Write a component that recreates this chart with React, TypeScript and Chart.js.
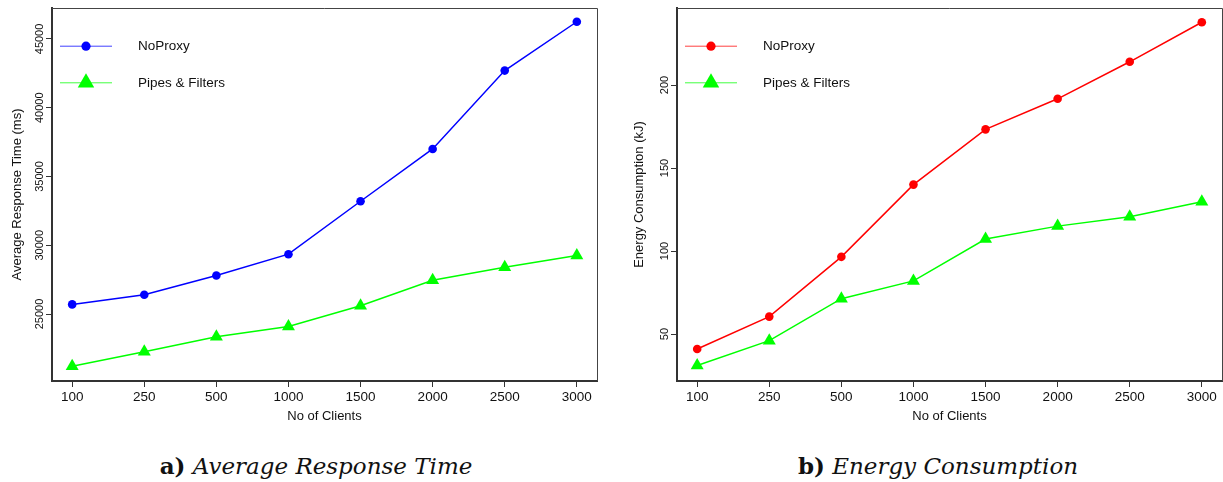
import React, { useEffect, useRef } from "react";
import { Chart, registerables } from "chart.js";

Chart.register(...registerables);

// ---------- data ----------
const clients = ["100", "250", "500", "1000", "1500", "2000", "2500", "3000"];
const seriesLabels = ["NoProxy", "Pipes & Filters"];

const responseNoProxy = [25700, 26400, 27800, 29350, 33200, 37000, 42700, 46250];
const responsePipes = [21200, 22250, 23350, 24100, 25600, 27450, 28400, 29250];
const responseTicks = [25000, 30000, 35000, 40000, 45000];

const energyNoProxy = [41, 60.5, 96.5, 140, 173.3, 191.7, 214, 237.8];
const energyPipes = [31, 46, 71.3, 82, 107.2, 115, 120.7, 129.7];
const energyTicks = [50, 100, 150, 200];

const captions = ["a)", "Average Response Time", "b)", "Energy Consumption"];

// ---------- helpers ----------
const SANS = '"Liberation Sans", Arial, Helvetica, sans-serif';

function drawMarker(ctx: CanvasRenderingContext2D, style: string, x: number, y: number, r: number, color: string) {
  ctx.fillStyle = color;
  ctx.beginPath();
  if (style === "triangle") {
    ctx.moveTo(x, y - r);
    ctx.lineTo(x + r * Math.sin((2 * Math.PI) / 3), y - r * Math.cos((2 * Math.PI) / 3));
    ctx.lineTo(x + r * Math.sin((4 * Math.PI) / 3), y - r * Math.cos((4 * Math.PI) / 3));
    ctx.closePath();
  } else {
    ctx.arc(x, y, r, 0, Math.PI * 2);
  }
  ctx.fill();
}

const framePlugin = {
  id: "frame",
  afterDraw(chart: any, _args: any, opts: any) {
    const { ctx, chartArea: a } = chart;
    ctx.save();
    // top + right frame
    ctx.strokeStyle = "#444";
    ctx.lineWidth = 1;
    ctx.beginPath();
    ctx.moveTo(a.left, a.top + 0.5);
    ctx.lineTo(a.right + 0.5, a.top + 0.5);
    ctx.lineTo(a.right + 0.5, a.bottom);
    ctx.stroke();

    // rotated y tick labels
    const ys = chart.scales.y;
    ctx.font = `11px ${SANS}`;
    ctx.fillStyle = "#111";
    ctx.textAlign = "center";
    ctx.textBaseline = "middle";
    for (const t of ys.ticks) {
      const py = ys.getPixelForValue(t.value);
      ctx.save();
      ctx.translate(a.left - opts.labelDist, py);
      ctx.rotate(-Math.PI / 2);
      ctx.fillText(String(t.value), 0, 0);
      ctx.restore();
    }

    // legend
    const items = opts.items as any[];
    items.forEach((it, i) => {
      const ry = a.top + 38.2 + i * 36.6;
      ctx.strokeStyle = it.color;
      ctx.globalAlpha = 0.75;
      ctx.lineWidth = 1;
      ctx.beginPath();
      ctx.moveTo(a.left + 8, ry);
      ctx.lineTo(a.left + 60, ry);
      ctx.stroke();
      ctx.globalAlpha = 1;
      drawMarker(ctx, it.style, a.left + 34, ry, it.style === "triangle" ? 9.5 : 4.6, it.color);
      ctx.font = `13.5px ${SANS}`;
      ctx.fillStyle = "#111";
      ctx.textAlign = "left";
      ctx.textBaseline = "middle";
      ctx.fillText(it.label, a.left + 86, ry + 0.5);
    });
    ctx.restore();
  },
};

type Cfg = {
  a: number[];
  b: number[];
  colorA: string;
  yMin: number;
  yMax: number;
  yTicks: number[];
  yTitle: string;
  yAxisWidth: number;
  yTitlePad: number;
  rightPad: number;
};

function makeConfig(c: Cfg): any {
  const pts = (vals: number[]) => vals.map((v, i) => ({ x: i, y: v }));
  return {
    type: "line",
    data: {
      datasets: [
        {
          label: seriesLabels[0],
          data: pts(c.a),
          borderColor: c.colorA,
          backgroundColor: c.colorA,
          borderWidth: 1.5,
          pointStyle: "circle",
          pointRadius: 4.3,
          pointBackgroundColor: c.colorA,
          pointBorderColor: c.colorA,
          pointBorderWidth: 0,
          tension: 0,
        },
        {
          label: seriesLabels[1],
          data: pts(c.b),
          borderColor: "#00ff00",
          backgroundColor: "#00ff00",
          borderWidth: 1.5,
          pointStyle: "triangle",
          pointRadius: 7.5,
          pointBackgroundColor: "#00ff00",
          pointBorderColor: "#00ff00",
          pointBorderWidth: 0,
          tension: 0,
        },
      ],
    },
    options: {
      animation: false,
      responsive: false,
      devicePixelRatio: 1,
      events: [],
      layout: { autoPadding: false, padding: { top: 8, right: c.rightPad, left: 0, bottom: 0 } },
      plugins: {
        legend: { display: false },
        tooltip: { enabled: false },
        frame: {
          labelDist: 11.8,
          items: [
            { label: seriesLabels[0], color: c.colorA, style: "circle" },
            { label: seriesLabels[1], color: "#00ff00", style: "triangle" },
          ],
        },
      },
      scales: {
        x: {
          type: "linear",
          min: -0.28,
          max: clients.length - 1 + 0.28,
          afterBuildTicks: (s: any) => {
            s.ticks = clients.map((_, i) => ({ value: i }));
          },
          afterFit: (s: any) => {
            s.height = 49;
            s.paddingLeft = 0;
            s.paddingRight = 0;
          },
          ticks: {
            callback: (v: number) => clients[v] ?? "",
            font: { size: 13.5, family: SANS },
            color: "#111",
            padding: 2,
            maxRotation: 0,
            autoSkip: false,
          },
          grid: { drawOnChartArea: false, drawTicks: true, tickLength: 6, color: "#333" },
          border: { display: true, color: "#333", width: 2 },
          title: {
            display: true,
            text: "No of Clients",
            font: { size: 13, family: SANS },
            color: "#111",
            padding: { top: 0, bottom: 6.2 },
          },
        },
        y: {
          type: "linear",
          min: c.yMin,
          max: c.yMax,
          afterBuildTicks: (s: any) => {
            s.ticks = c.yTicks.map((v) => ({ value: v }));
          },
          afterFit: (s: any) => {
            s.width = c.yAxisWidth;
            s.paddingTop = 0;
            s.paddingBottom = 0;
          },
          ticks: { display: false },
          grid: { drawOnChartArea: false, drawTicks: true, tickLength: 6, color: "#333" },
          border: { display: true, color: "#333", width: 2 },
          title: {
            display: true,
            text: c.yTitle,
            font: { size: 13, family: SANS },
            color: "#111",
            padding: { top: c.yTitlePad, bottom: 0 },
          },
        },
      },
    },
    plugins: [framePlugin],
  };
}

function ChartCanvas({ cfg, left }: { cfg: Cfg; left: number }) {
  const ref = useRef<HTMLCanvasElement | null>(null);
  useEffect(() => {
    if (!ref.current) return;
    const chart = new Chart(ref.current, makeConfig(cfg));
    return () => chart.destroy();
  }, []);
  return (
    <canvas
      ref={ref}
      width={611}
      height={430}
      style={{ position: "absolute", left, top: 0, width: 611, height: 430 }}
    />
  );
}

const captionStyle: React.CSSProperties = {
  position: "absolute",
  top: 452,
  width: 500,
  textAlign: "center",
  fontFamily: '"DejaVu Serif", "Liberation Serif", serif',
  fontSize: 23,
  lineHeight: "28px",
  color: "#111",
  whiteSpace: "nowrap",
};

export default function App() {
  return (
    <div
      style={{
        position: "fixed",
        left: 0,
        top: 0,
        width: 1223,
        height: 482,
        background: "#fff",
        overflow: "hidden",
      }}
    >
      <ChartCanvas
        left={0}
        cfg={{
          a: responseNoProxy,
          b: responsePipes,
          colorA: "#0000ff",
          yMin: 20130,
          yMax: 47250,
          yTicks: responseTicks,
          yTitle: "Average Response Time (ms)",
          yAxisWidth: 52,
          yTitlePad: 9.7,
          rightPad: 14,
        }}
      />
      <ChartCanvas
        left={612}
        cfg={{
          a: energyNoProxy,
          b: energyPipes,
          colorA: "#ff0000",
          yMin: 21.7,
          yMax: 246.4,
          yTicks: energyTicks,
          yTitle: "Energy Consumption (kJ)",
          yAxisWidth: 65,
          yTitlePad: 19.5,
          rightPad: 1,
        }}
      />
      <div style={{ ...captionStyle, left: 316 - 250 }}>
        <b style={{ fontStyle: "normal" }}>{captions[0]}</b> <i>{captions[1]}</i>
      </div>
      <div style={{ ...captionStyle, left: 938 - 250 }}>
        <b style={{ fontStyle: "normal" }}>{captions[2]}</b> <i>{captions[3]}</i>
      </div>
    </div>
  );
}
